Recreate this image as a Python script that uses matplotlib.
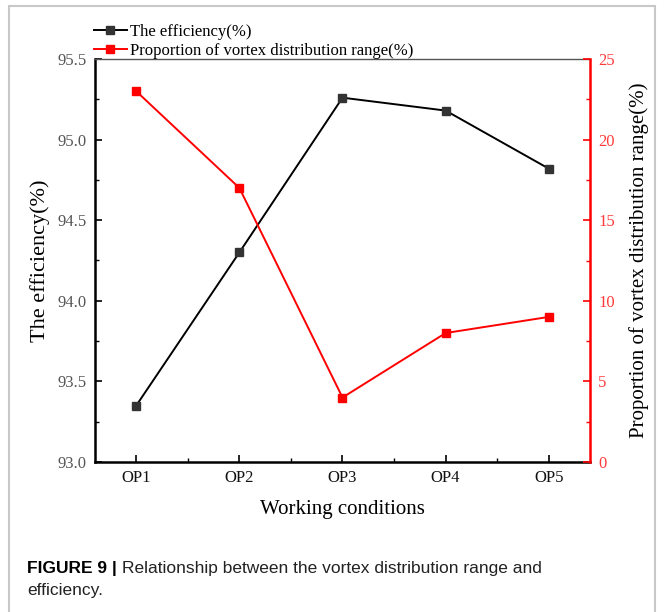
import matplotlib
matplotlib.use('Agg')
import matplotlib.pyplot as plt
from matplotlib.patches import Rectangle
from matplotlib.lines import Line2D
from matplotlib.ticker import MultipleLocator

# data
conditions = ['OP1', 'OP2', 'OP3', 'OP4', 'OP5']
efficiency = [93.35, 94.3, 95.26, 95.18, 94.82]
vortex_range = [23, 17, 4, 8, 9]

W, H = 664, 612
fig = plt.figure(figsize=(W / 100, H / 100), dpi=100)
serif = 'Liberation Serif'

# axes box in pixels: left 95, right 590, top 59, bottom 462
ax = fig.add_axes([95 / W, 1 - 462 / H, (590 - 95) / W, (462 - 59) / H])
ax2 = ax.twinx()

xs = list(range(1, len(conditions) + 1))
ax.plot(xs, efficiency, color='black', lw=1.4, marker='s', ms=6,
        mfc='#333333', mec='#333333', zorder=3)
ax2.plot(xs, vortex_range, color='red', lw=1.4, marker='s', ms=6,
         mfc='red', mec='red', zorder=3)

ax.set_xlim(0.6, 5.4)
ax.set_ylim(93.0, 95.5)
ax2.set_ylim(0, 25)
ax.set_xticks(xs)
ax.set_xticklabels(conditions)
ax.xaxis.set_minor_locator(MultipleLocator(0.5))
ax.yaxis.set_major_locator(MultipleLocator(0.5))
ax.yaxis.set_minor_locator(MultipleLocator(0.25))
ax2.yaxis.set_major_locator(MultipleLocator(5))
ax2.yaxis.set_minor_locator(MultipleLocator(2.5))
ax.yaxis.set_major_formatter(matplotlib.ticker.FormatStrFormatter('%.1f'))

ax.tick_params(axis='both', which='major', direction='in', length=5, width=1.2,
               labelsize=12, pad=6)
ax.tick_params(axis='y', labelcolor='#555555')
ax.tick_params(axis='x', labelcolor='#111111')
ax.tick_params(axis='both', which='minor', direction='in', length=3, width=1.0)
ax.tick_params(axis='y', right=False)
ax.tick_params(axis='x', top=False, which='both')
ax2.tick_params(axis='y', which='major', direction='in', length=5, width=1.2,
                colors='red', labelcolor='#ff3b3b', labelsize=12, pad=6)
ax2.tick_params(axis='y', which='minor', direction='in', length=3, width=1.0,
                colors='red')
for lab in ax.get_xticklabels() + ax.get_yticklabels() + ax2.get_yticklabels():
    lab.set_fontfamily(serif)

for s in ['left', 'bottom']:
    ax.spines[s].set_linewidth(1.8)
ax.spines['top'].set_linewidth(1.0)
ax.spines['top'].set_color('#555555')
ax2.spines['right'].set_color('red')
ax2.spines['right'].set_linewidth(1.8)
ax2.spines['left'].set_visible(False)
ax2.spines['bottom'].set_visible(False)
ax2.spines['top'].set_visible(False)
ax.spines['right'].set_visible(False)

ax.set_xlabel('Working conditions', fontsize=15, fontfamily=serif, labelpad=10)
ax.set_ylabel('The efficiency(%)', fontsize=16, fontfamily=serif, labelpad=5)
ax2.set_ylabel('Proportion of vortex distribution range(%)', fontsize=15,
               fontfamily=serif, labelpad=10)

handles = [
    Line2D([], [], color='black', lw=1.4, marker='s', ms=6, mfc='#333333', mec='#333333'),
    Line2D([], [], color='red', lw=1.4, marker='s', ms=6, mfc='red', mec='red'),
]
fig.legend(handles, ['The efficiency(%)', 'Proportion of vortex distribution range(%)'],
           loc='upper left', bbox_to_anchor=(82 / W, 1 - 12 / H), frameon=False,
           prop={'family': serif, 'size': 12}, handlelength=2.0, handletextpad=0.2,
           labelspacing=0.2, borderpad=0.2)

# caption
fig.text(27 / W, 1 - 568 / H, 'FIGURE 9 |', fontsize=12.5, fontweight='bold',
         fontfamily='Liberation Sans', va='center', ha='left')
fig.text(122 / W, 1 - 568 / H, 'Relationship between the vortex distribution range and',
         fontsize=12.5, fontfamily='Liberation Sans', va='center', ha='left', color='#222222')
fig.text(27 / W, 1 - 591 / H, 'efficiency.', fontsize=12.5,
         fontfamily='Liberation Sans', va='center', ha='left', color='#222222')

# outer light frame
fig.patches.append(Rectangle((9 / W, -0.02), (655 - 9) / W, 1 - 6 / H + 0.02,
                             transform=fig.transFigure, fill=False,
                             edgecolor='#c8c8c8', lw=1.5))

fig.savefig('out.png', dpi=100)
